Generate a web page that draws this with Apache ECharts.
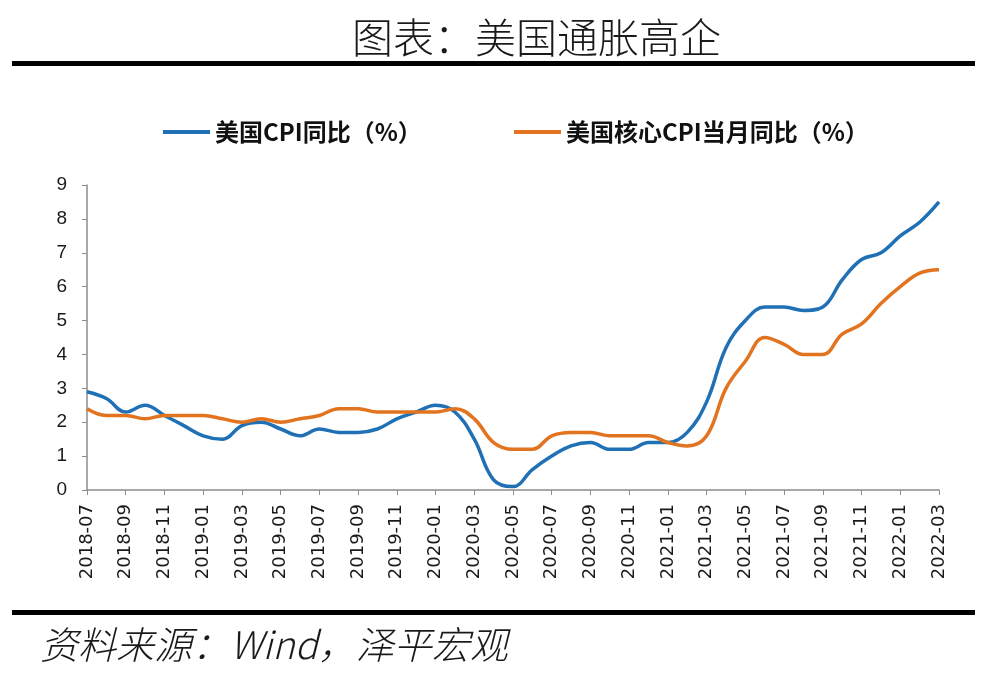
<!DOCTYPE html>
<html>
<head>
<meta charset="utf-8">
<script src="https://cdn.jsdelivr.net/npm/echarts@6/dist/echarts.min.js"></script>
<style>
html,body{margin:0;padding:0;background:#fff;}
#chart{width:995px;height:685px;}
</style>
</head>
<body>
<div id="chart"></div>
<script>
const months = ['2018-07','2018-08','2018-09','2018-10','2018-11','2018-12',
'2019-01','2019-02','2019-03','2019-04','2019-05','2019-06','2019-07','2019-08','2019-09','2019-10','2019-11','2019-12',
'2020-01','2020-02','2020-03','2020-04','2020-05','2020-06','2020-07','2020-08','2020-09','2020-10','2020-11','2020-12',
'2021-01','2021-02','2021-03','2021-04','2021-05','2021-06','2021-07','2021-08','2021-09','2021-10','2021-11','2021-12',
'2022-01','2022-02','2022-03'];
const cpiYoY = [2.9,2.7,2.3,2.5,2.2,1.9,
1.6,1.5,1.9,2.0,1.8,1.6,1.8,1.7,1.7,1.8,2.1,2.3,
2.5,2.3,1.5,0.3,0.1,0.6,1.0,1.3,1.4,1.2,1.2,1.4,
1.4,1.7,2.6,4.2,5.0,5.4,5.4,5.3,5.4,6.2,6.8,7.0,
7.5,7.9,8.5];
const coreCpiYoY = [2.4,2.2,2.2,2.1,2.2,2.2,
2.2,2.1,2.0,2.1,2.0,2.1,2.2,2.4,2.4,2.3,2.3,2.3,
2.3,2.4,2.1,1.4,1.2,1.2,1.6,1.7,1.7,1.6,1.6,1.6,
1.4,1.3,1.6,3.0,3.8,4.5,4.3,4.0,4.0,4.6,4.9,5.5,
6.0,6.4,6.5];
const seriesNames = ['美国CPI同比（%）','美国核心CPI当月同比（%）'];
const yTicks = [0,1,2,3,4,5,6,7,8,9];

const chart = echarts.init(document.getElementById('chart'));
const cjk = '"Noto Sans CJK SC", "Noto Sans", sans-serif';
chart.setOption({
  animation: false,
  backgroundColor: '#fff',
  graphic: [
    {type:'text', left:352, top:17, style:{text:'图表：美国通胀高企', font:'300 41px ' + cjk, fill:'#1a1a1a'}},
    {type:'rect', shape:{x:12, y:61, width:963, height:5}, style:{fill:'#000'}},
    {type:'rect', shape:{x:12, y:610, width:963, height:5}, style:{fill:'#000'}},
    {type:'text', left:40, top:626, style:{text:'资料来源：Wind，泽平宏观', font:'italic 300 38px ' + cjk, fill:'#1a1a1a'}}
  ],
  legend: [
    {data:[seriesNames[0]], left:158, top:115, icon:'rect', itemWidth:47, itemHeight:4, itemGap:10,
     textStyle:{fontFamily:cjk, fontWeight:'bold', fontSize:24, color:'#111'}},
    {data:[seriesNames[1]], left:509, top:115, icon:'rect', itemWidth:47, itemHeight:4, itemGap:10,
     textStyle:{fontFamily:cjk, fontWeight:'bold', fontSize:24, color:'#111'}}
  ],
  grid: {left:87, right:56, top:185, bottom:195, containLabel:false},
  xAxis: {
    type:'category', data:months, boundaryGap:false,
    axisLine:{lineStyle:{color:'#8c8c8c', width:1.5}},
    axisTick:{interval:1, length:5, lineStyle:{color:'#8c8c8c'}},
    axisLabel:{interval:1, rotate:90, fontFamily:'"DejaVu Sans", sans-serif', fontSize:18, color:'#1a1a1a', margin:14}
  },
  yAxis: {
    type:'value', min:yTicks[0], max:yTicks[yTicks.length-1], interval:1,
    axisLine:{show:true, lineStyle:{color:'#8c8c8c', width:1.5}},
    axisTick:{show:true, length:5, lineStyle:{color:'#8c8c8c'}},
    splitLine:{show:false},
    axisLabel:{fontFamily:'"Liberation Sans", sans-serif', fontSize:19, color:'#1a1a1a', margin:20}
  },
  series: [
    {name:seriesNames[0], type:'line', data:cpiYoY, smooth:0.4, showSymbol:false,
     lineStyle:{width:3.5, color:'#1f70b5'}, itemStyle:{color:'#1f70b5'}},
    {name:seriesNames[1], type:'line', data:coreCpiYoY, smooth:0.4, showSymbol:false,
     lineStyle:{width:3.5, color:'#e2731f'}, itemStyle:{color:'#e2731f'}}
  ]
});
</script>
</body>
</html>
